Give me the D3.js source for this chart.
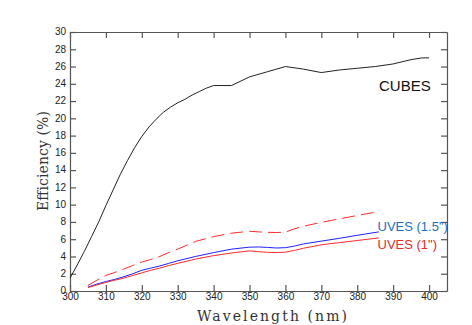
<!DOCTYPE html>
<html>
<head>
<meta charset="utf-8">
<script src="https://cdn.jsdelivr.net/npm/d3@7"></script>
<style>
  body { margin: 0; background: #fff; }
  svg { display: block; }
</style>
</head>
<body>
<svg id="chart" width="472" height="325"></svg>
<script>
// CUBES efficiency curve
const cubesNm = [300, 302, 304, 306, 308, 310, 312, 314, 316, 318, 320, 322, 324, 326, 328, 330,
  332, 334, 336, 338, 340, 345, 350, 355, 360, 365, 370, 375, 380, 385, 390, 395, 398, 400];
const cubesEff = [1.5, 3.0, 4.6, 6.3, 8.0, 9.9, 11.7, 13.5, 15.1, 16.6, 17.9, 19.0, 19.9, 20.7, 21.3, 21.8,
  22.2, 22.7, 23.1, 23.5, 23.8, 23.8, 24.8, 25.4, 26.0, 25.7, 25.3, 25.6, 25.8, 26.0, 26.3, 26.8, 27.0, 27.0];

// UVES curves, shared wavelength grid
const uvesNm = [305, 307.5, 310, 312.5, 315, 317.5, 320, 322.5, 325, 327.5, 330, 335, 340, 345,
  350, 352.5, 355, 357.5, 360, 362.5, 365, 370, 375, 380, 386];
const uves15 = [0.45, 0.8, 1.1, 1.35, 1.65, 2.0, 2.4, 2.65, 2.9, 3.2, 3.5, 4.0, 4.45, 4.85,
  5.08, 5.1, 5.05, 4.98, 5.02, 5.2, 5.45, 5.78, 6.1, 6.45, 6.85];
const uves1 = [0.4, 0.7, 1.0, 1.25, 1.5, 1.8, 2.1, 2.4, 2.65, 2.95, 3.2, 3.7, 4.1, 4.4,
  4.65, 4.55, 4.48, 4.45, 4.5, 4.7, 4.95, 5.35, 5.6, 5.85, 6.15];
const uvesDashed = [0.65, 1.25, 1.8, 2.15, 2.55, 2.95, 3.35, 3.65, 4.0, 4.45, 4.85, 5.75, 6.3, 6.7,
  6.92, 6.85, 6.8, 6.77, 6.82, 7.2, 7.5, 7.95, 8.35, 8.75, 9.2];

const xTicks = d3.range(300, 401, 10);
const yTicks = d3.range(0, 31, 2);

const svg = d3.select("#chart");
const plotLeft = 70, plotRight = 447, plotTop = 32, plotBottom = 291;

const x = d3.scaleLinear().domain([300, 405]).range([plotLeft, plotRight]);
const y = d3.scaleLinear().domain([0, 30]).range([plotBottom, plotTop]);

const tickFont = "'Liberation Sans', Arial, sans-serif";
const frameColor = "#555";

// axes on all four sides, ticks pointing inward
function styleAxis(g) {
  g.select(".domain").attr("stroke", frameColor).attr("stroke-width", 1.2);
  g.selectAll(".tick line").attr("stroke", frameColor).attr("stroke-width", 1.2);
  g.selectAll(".tick text")
    .attr("fill", "#222")
    .style("font-family", tickFont)
    .style("font-size", "10px");
}

svg.append("g")
  .attr("transform", `translate(0,${plotBottom})`)
  .call(d3.axisBottom(x).tickValues(xTicks).tickSizeInner(-6).tickSizeOuter(0).tickPadding(2).tickFormat(d3.format("d")))
  .call(styleAxis);

svg.append("g")
  .attr("transform", `translate(0,${plotTop})`)
  .call(d3.axisTop(x).tickValues(xTicks).tickSizeInner(-6).tickSizeOuter(0).tickFormat(""))
  .call(styleAxis);

svg.append("g")
  .attr("transform", `translate(${plotLeft},0)`)
  .call(d3.axisLeft(y).tickValues(yTicks).tickSizeInner(-6).tickSizeOuter(0).tickPadding(4).tickFormat(d3.format("d")))
  .call(styleAxis)
  .call(g => g.selectAll(".tick text").attr("dy", "0.28em"));

svg.append("g")
  .attr("transform", `translate(${plotRight},0)`)
  .call(d3.axisRight(y).tickValues(yTicks).tickSizeInner(-6).tickSizeOuter(0).tickFormat(""))
  .call(styleAxis);

// curves
const line = d3.line()
  .x(d => x(d[0]))
  .y(d => y(d[1]));

const series = [
  { nm: cubesNm, eff: cubesEff, color: "#222", dash: null },
  { nm: uvesNm, eff: uvesDashed, color: "#ff2a2a", dash: "13,6" },
  { nm: uvesNm, eff: uves15, color: "#2020ff", dash: null },
  { nm: uvesNm, eff: uves1, color: "#ff2a2a", dash: null }
];

series.forEach(s => {
  svg.append("path")
    .datum(d3.zip(s.nm, s.eff))
    .attr("fill", "none")
    .attr("stroke", s.color)
    .attr("stroke-width", 1)
    .attr("stroke-dasharray", s.dash)
    .attr("d", line);
});

// series labels
const labelFont = "'Liberation Sans', Arial, Helvetica, sans-serif";

svg.append("text")
  .attr("x", 379).attr("y", 91)
  .style("font-family", labelFont).style("font-size", "15px")
  .attr("fill", "#111")
  .text("CUBES");

svg.append("text")
  .attr("x", 377.5).attr("y", 231)
  .style("font-family", labelFont).style("font-size", "13px")
  .attr("fill", "#1f6fc0")
  .text('UVES (1.5")');

svg.append("text")
  .attr("x", 377.5).attr("y", 248.5)
  .style("font-family", labelFont).style("font-size", "13px")
  .attr("fill", "#e82a2a")
  .text('UVES (1")');

// axis titles
const titleFont = "'DejaVu Serif', 'Liberation Serif', serif";

svg.append("text")
  .attr("x", 272).attr("y", 321)
  .attr("text-anchor", "middle")
  .attr("textLength", 150)
  .attr("lengthAdjust", "spacing")
  .style("font-family", titleFont).style("font-size", "14px")
  .style("font-weight", 300)
  .attr("fill", "#333")
  .text("Wavelength (nm)");

svg.append("text")
  .attr("transform", "translate(48,161) rotate(-90)")
  .attr("text-anchor", "middle")
  .attr("textLength", 100)
  .attr("lengthAdjust", "spacing")
  .style("font-family", titleFont).style("font-size", "14px")
  .style("font-weight", 300)
  .attr("fill", "#333")
  .text("Efficiency (%)");
</script>
</body>
</html>
